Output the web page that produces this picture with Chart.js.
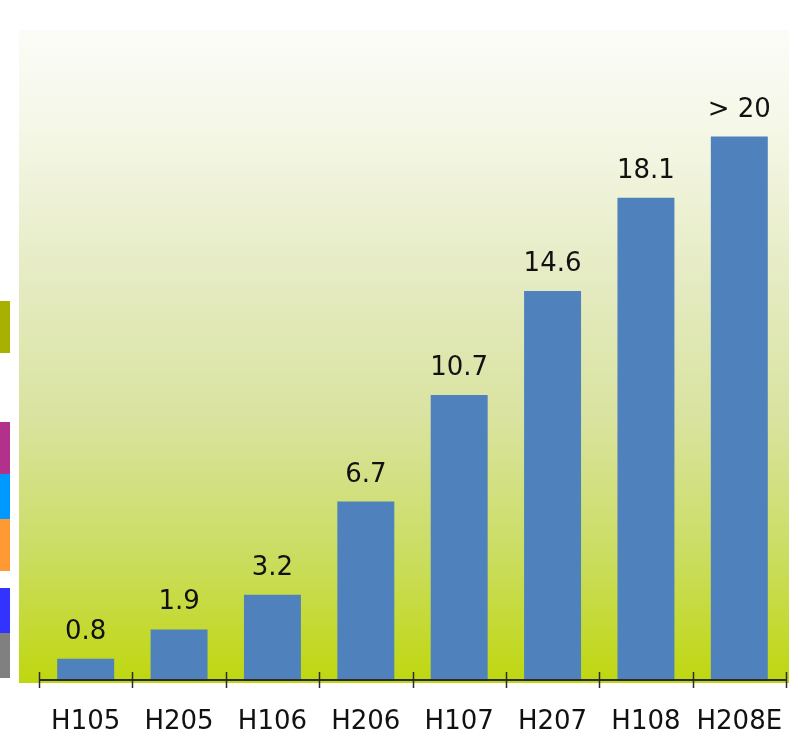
<!DOCTYPE html>
<html>
<head>
<meta charset="utf-8">
<script src="https://cdn.jsdelivr.net/npm/chart.js@4/dist/chart.umd.min.js"></script>
<style>
  html, body { margin: 0; padding: 0; background: #ffffff; }
  #wrap { position: relative; width: 798px; height: 737px; }
</style>
</head>
<body>
<div id="wrap"><canvas id="chart" width="798" height="737"></canvas></div>
<script>
// Model generations and their measured values
const categories = ["H105", "H205", "H106", "H206", "H107", "H207", "H108", "H208E"];
const values = [0.8, 1.9, 3.2, 6.7, 10.7, 14.6, 18.1, 20.4];
const valueLabels = ["0.8", "1.9", "3.2", "6.7", "10.7", "14.6", "18.1", "> 20"];

const FONT = "'DejaVu Sans', Verdana, sans-serif";

// Soft white-to-lime backdrop behind the plot, plus the colour keys on the left edge
const backdrop = {
  id: "backdrop",
  beforeDatasetsDraw(chart) {
    const { ctx, chartArea } = chart;
    const x0 = chartArea.left - 20, x1 = chartArea.right + 3;
    const y0 = chartArea.top, y1 = chartArea.bottom + 3;
    const g = ctx.createLinearGradient(0, y0, 0, y1);
    g.addColorStop(0.0, "#fbfcf7");
    g.addColorStop(0.15, "#f5f7e7");
    g.addColorStop(0.4, "#e4eabf");
    g.addColorStop(0.6, "#d9e39e");
    g.addColorStop(0.8, "#cbdd62");
    g.addColorStop(1.0, "#bfd70f");
    ctx.save();
    ctx.fillStyle = g;
    ctx.fillRect(x0, y0, x1 - x0, y1 - y0);
    ctx.restore();
  },
  beforeDraw(chart) {
    const { ctx } = chart;
    const keys = [
      ["#a8b000", 301, 353],
      ["#b3318b", 422, 474],
      ["#0099ff", 474, 519],
      ["#ff9933", 519, 571],
      ["#3333ff", 588, 633],
      ["#808080", 633, 678]
    ];
    ctx.save();
    keys.forEach(([c, a, b]) => { ctx.fillStyle = c; ctx.fillRect(0, a, 10, b - a); });
    ctx.restore();
  }
};

// Axis line with ticks crossing it at category boundaries, and value labels above bars
const overlay = {
  id: "overlay",
  afterDatasetsDraw(chart) {
    const { ctx } = chart;
    const xs = chart.scales.x;
    const y = chart.scales.y.getPixelForValue(0);
    const n = categories.length;
    ctx.save();
    ctx.strokeStyle = "#2b2b2b";
    ctx.lineWidth = 2;
    ctx.beginPath();
    ctx.moveTo(xs.left, y);
    ctx.lineTo(xs.right, y);
    ctx.stroke();
    ctx.lineWidth = 1.5;
    for (let i = 0; i <= n; i++) {
      const x = Math.round(xs.left + i * (xs.width / n)) + 0.5;
      ctx.beginPath();
      ctx.moveTo(x, y - 8);
      ctx.lineTo(x, y + 8);
      ctx.stroke();
    }
    const meta = chart.getDatasetMeta(0);
    ctx.fillStyle = "#111111";
    ctx.font = "26px " + FONT;
    ctx.textAlign = "center";
    ctx.textBaseline = "alphabetic";
    meta.data.forEach((bar, i) => {
      ctx.fillText(valueLabels[i], bar.x, bar.y - 20);
    });
    ctx.restore();
  }
};

new Chart(document.getElementById("chart"), {
  type: "bar",
  data: {
    labels: categories,
    datasets: [{
      data: values,
      backgroundColor: "#4f81bd",
      borderWidth: 0,
      categoryPercentage: 1.0,
      barPercentage: 0.61
    }]
  },
  options: {
    responsive: false,
    animation: false,
    devicePixelRatio: 1,
    layout: { padding: { left: 39, right: 12, top: 30, bottom: 0 } },
    plugins: { legend: { display: false }, tooltip: { enabled: false } },
    scales: {
      x: {
        offset: true,
        border: { display: false },
        grid: { display: false, drawTicks: false },
        afterFit(scale) {
          scale.height = 57;
          scale.paddingLeft = 0;
          scale.paddingRight = 0;
        },
        ticks: {
          color: "#111111",
          font: { family: FONT, size: 26 },
          padding: 27,
          maxRotation: 0,
          autoSkip: false
        }
      },
      y: {
        display: false,
        min: 0,
        max: 24.4
      }
    }
  },
  plugins: [backdrop, overlay]
});
</script>
</body>
</html>
